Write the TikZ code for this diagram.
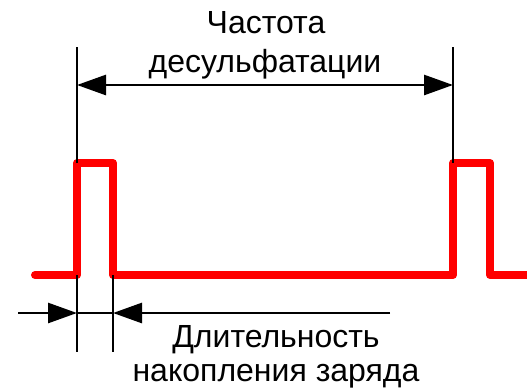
\documentclass[tikz,border=0pt]{standalone}
\usepackage{fontspec}
\setmainfont{Liberation Sans}
\usetikzlibrary{arrows.meta}
\tikzset{pulse/.style={red,line width=8pt,line cap=round,line join=round},
	dim/.style={black,line width=2.7pt},
	tip/.tip={Triangle[length=29pt,width=20pt]},
	label/.style={inner sep=0pt,anchor=base,font=\fontsize{32}{38}\selectfont}}

\begin{document}
\begin{tikzpicture}[x=1pt,y=-1pt]
\useasboundingbox (0,0) rectangle (527,391);
% pulse train
\draw[pulse] (35,275) -- (77,275) -- (77,163) -- (113,163) -- (113,275)
	-- (453,275) -- (453,163) -- (490,163) -- (490,275) -- (535,275);

% extension lines
\coordinate (p1top) at (77,47);
\coordinate (p1hi) at (77,163);
\coordinate (p2top) at (453,47);
\coordinate (p2hi) at (453,163);
\coordinate (p1lo) at (77,275);
\coordinate (p1bot) at (77,352);
\coordinate (f1lo) at (113,275);
\coordinate (f1bot) at (113,352);
\draw[dim] (p1top) -- (p1hi);
\draw[dim] (p2top) -- (p2hi);
\draw[dim] (p1lo) -- (p1bot);
\draw[dim] (f1lo) -- (f1bot);

% period
\coordinate (fa) at (77,85);
\coordinate (fb) at (453,85);
\draw[dim,tip-tip] (fa) -- (fb);
\node[label] (freq1) at (266,33) {Частота};
\node[label] (freq2) at (265,72) {десульфатации};

% pulse width
\coordinate (wl) at (18,313);
\coordinate (wa) at (77,313);
\coordinate (wb) at (113,313);
\coordinate (wr) at (390,313);
\draw[dim,-tip] (wl) -- (wa);
\draw[dim] (wa) -- (wb);
\draw[dim,-tip] (wr) -- (wb);
\node[label] (dur1) at (276,347) {Длительность};
\node[label] (dur2) at (276,381) {накопления заряда};
\end{tikzpicture}
\end{document}
